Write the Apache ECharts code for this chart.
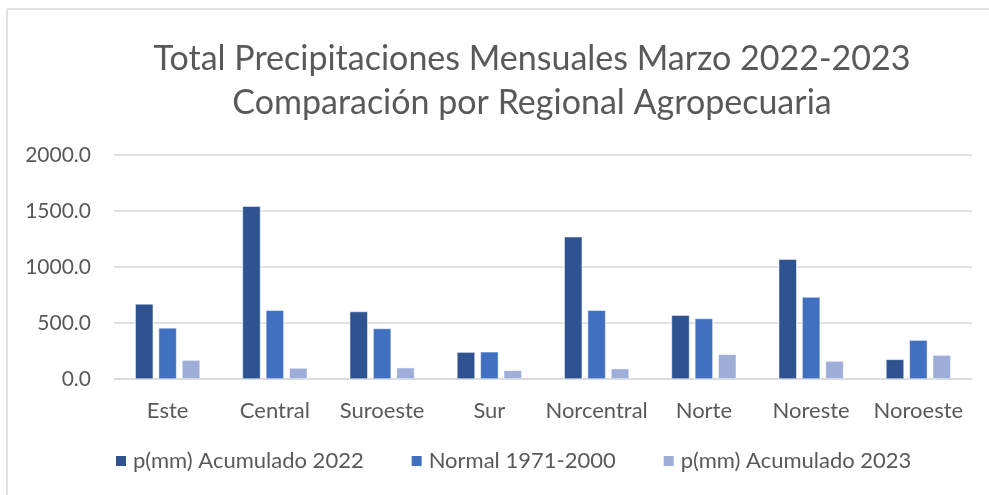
<!DOCTYPE html>
<html>
<head>
<meta charset="utf-8">
<script src="https://cdn.jsdelivr.net/npm/echarts@6/dist/echarts.min.js"></script>
<style>
  html, body { margin: 0; padding: 0; background: #fff; }
  #chart { width: 989px; height: 495px; }
</style>
</head>
<body>
<div id="chart"></div>
<script>
// regiones agropecuarias
const regiones = ['Este', 'Central', 'Suroeste', 'Sur', 'Norcentral', 'Norte', 'Noreste', 'Noroeste'];
// precipitacion acumulada marzo (mm)
const acum2022 = [670, 1542, 602, 240, 1270, 569, 1070, 175];
const normal = [456, 614, 451, 243, 614, 540, 732, 347];
const acum2023 = [169, 98, 101, 77, 92, 220, 160, 213];
const yTicks = [0, 500, 1000, 1500, 2000];

const chart = echarts.init(document.getElementById('chart'));

const gris = '#595959';
const fuente = 'Lato, "Noto Sans", sans-serif';

chart.setOption({
  backgroundColor: '#fff',
  color: ['#2F5290', '#4270C0', '#9EAED8'],
  title: {
    text: 'Total Precipitaciones Mensuales Marzo 2022-2023\nComparación por Regional Agropecuaria',
    left: 527,
    top: 32,
    textAlign: 'center',
    textStyle: {
      fontFamily: fuente,
      fontWeight: 'normal',
      fontSize: 34,
      lineHeight: 44,
      color: gris
    }
  },
  graphic: [
    { type: 'line', shape: { x1: 7, y1: 9, x2: 989, y2: 9 }, style: { stroke: '#D9D9D9', lineWidth: 1.5 } },
    { type: 'line', shape: { x1: 7, y1: 9, x2: 7, y2: 495 }, style: { stroke: '#D9D9D9', lineWidth: 1.5 } }
  ],
  legend: {
    bottom: 18,
    left: 109,
    itemWidth: 12,
    itemHeight: 12,
    itemGap: 46,
    icon: 'rect',
    textStyle: { fontFamily: fuente, fontSize: 22, color: gris, padding: [0, 0, 0, 1] },
    data: ['p(mm) Acumulado 2022', 'Normal 1971-2000', 'p(mm) Acumulado 2023']
  },
  grid: { left: 114, right: 17, top: 155, bottom: 116 },
  xAxis: {
    type: 'category',
    data: regiones,
    axisTick: { show: false },
    axisLine: { lineStyle: { color: '#D9D9D9', width: 1.5 } },
    axisLabel: { fontFamily: fuente, fontSize: 22, color: gris, margin: 21, interval: 0 }
  },
  yAxis: {
    type: 'value',
    min: yTicks[0],
    max: yTicks[yTicks.length - 1],
    interval: 500,
    axisLabel: {
      fontFamily: fuente,
      fontSize: 21,
      color: gris,
      margin: 23,
      formatter: v => v.toFixed(1)
    },
    splitLine: { lineStyle: { color: '#D9D9D9', width: 1.5 } }
  },
  series: [
    { name: 'p(mm) Acumulado 2022', type: 'bar', data: acum2022, barWidth: 18, barGap: '30%', itemStyle: { borderColor: '#fff', borderWidth: 0.5 } },
    { name: 'Normal 1971-2000', type: 'bar', data: normal, barWidth: 18, barGap: '30%', itemStyle: { borderColor: '#fff', borderWidth: 0.5 } },
    { name: 'p(mm) Acumulado 2023', type: 'bar', data: acum2023, barWidth: 18, barGap: '30%', itemStyle: { borderColor: '#fff', borderWidth: 0.5 } }
  ]
});
</script>
</body>
</html>
